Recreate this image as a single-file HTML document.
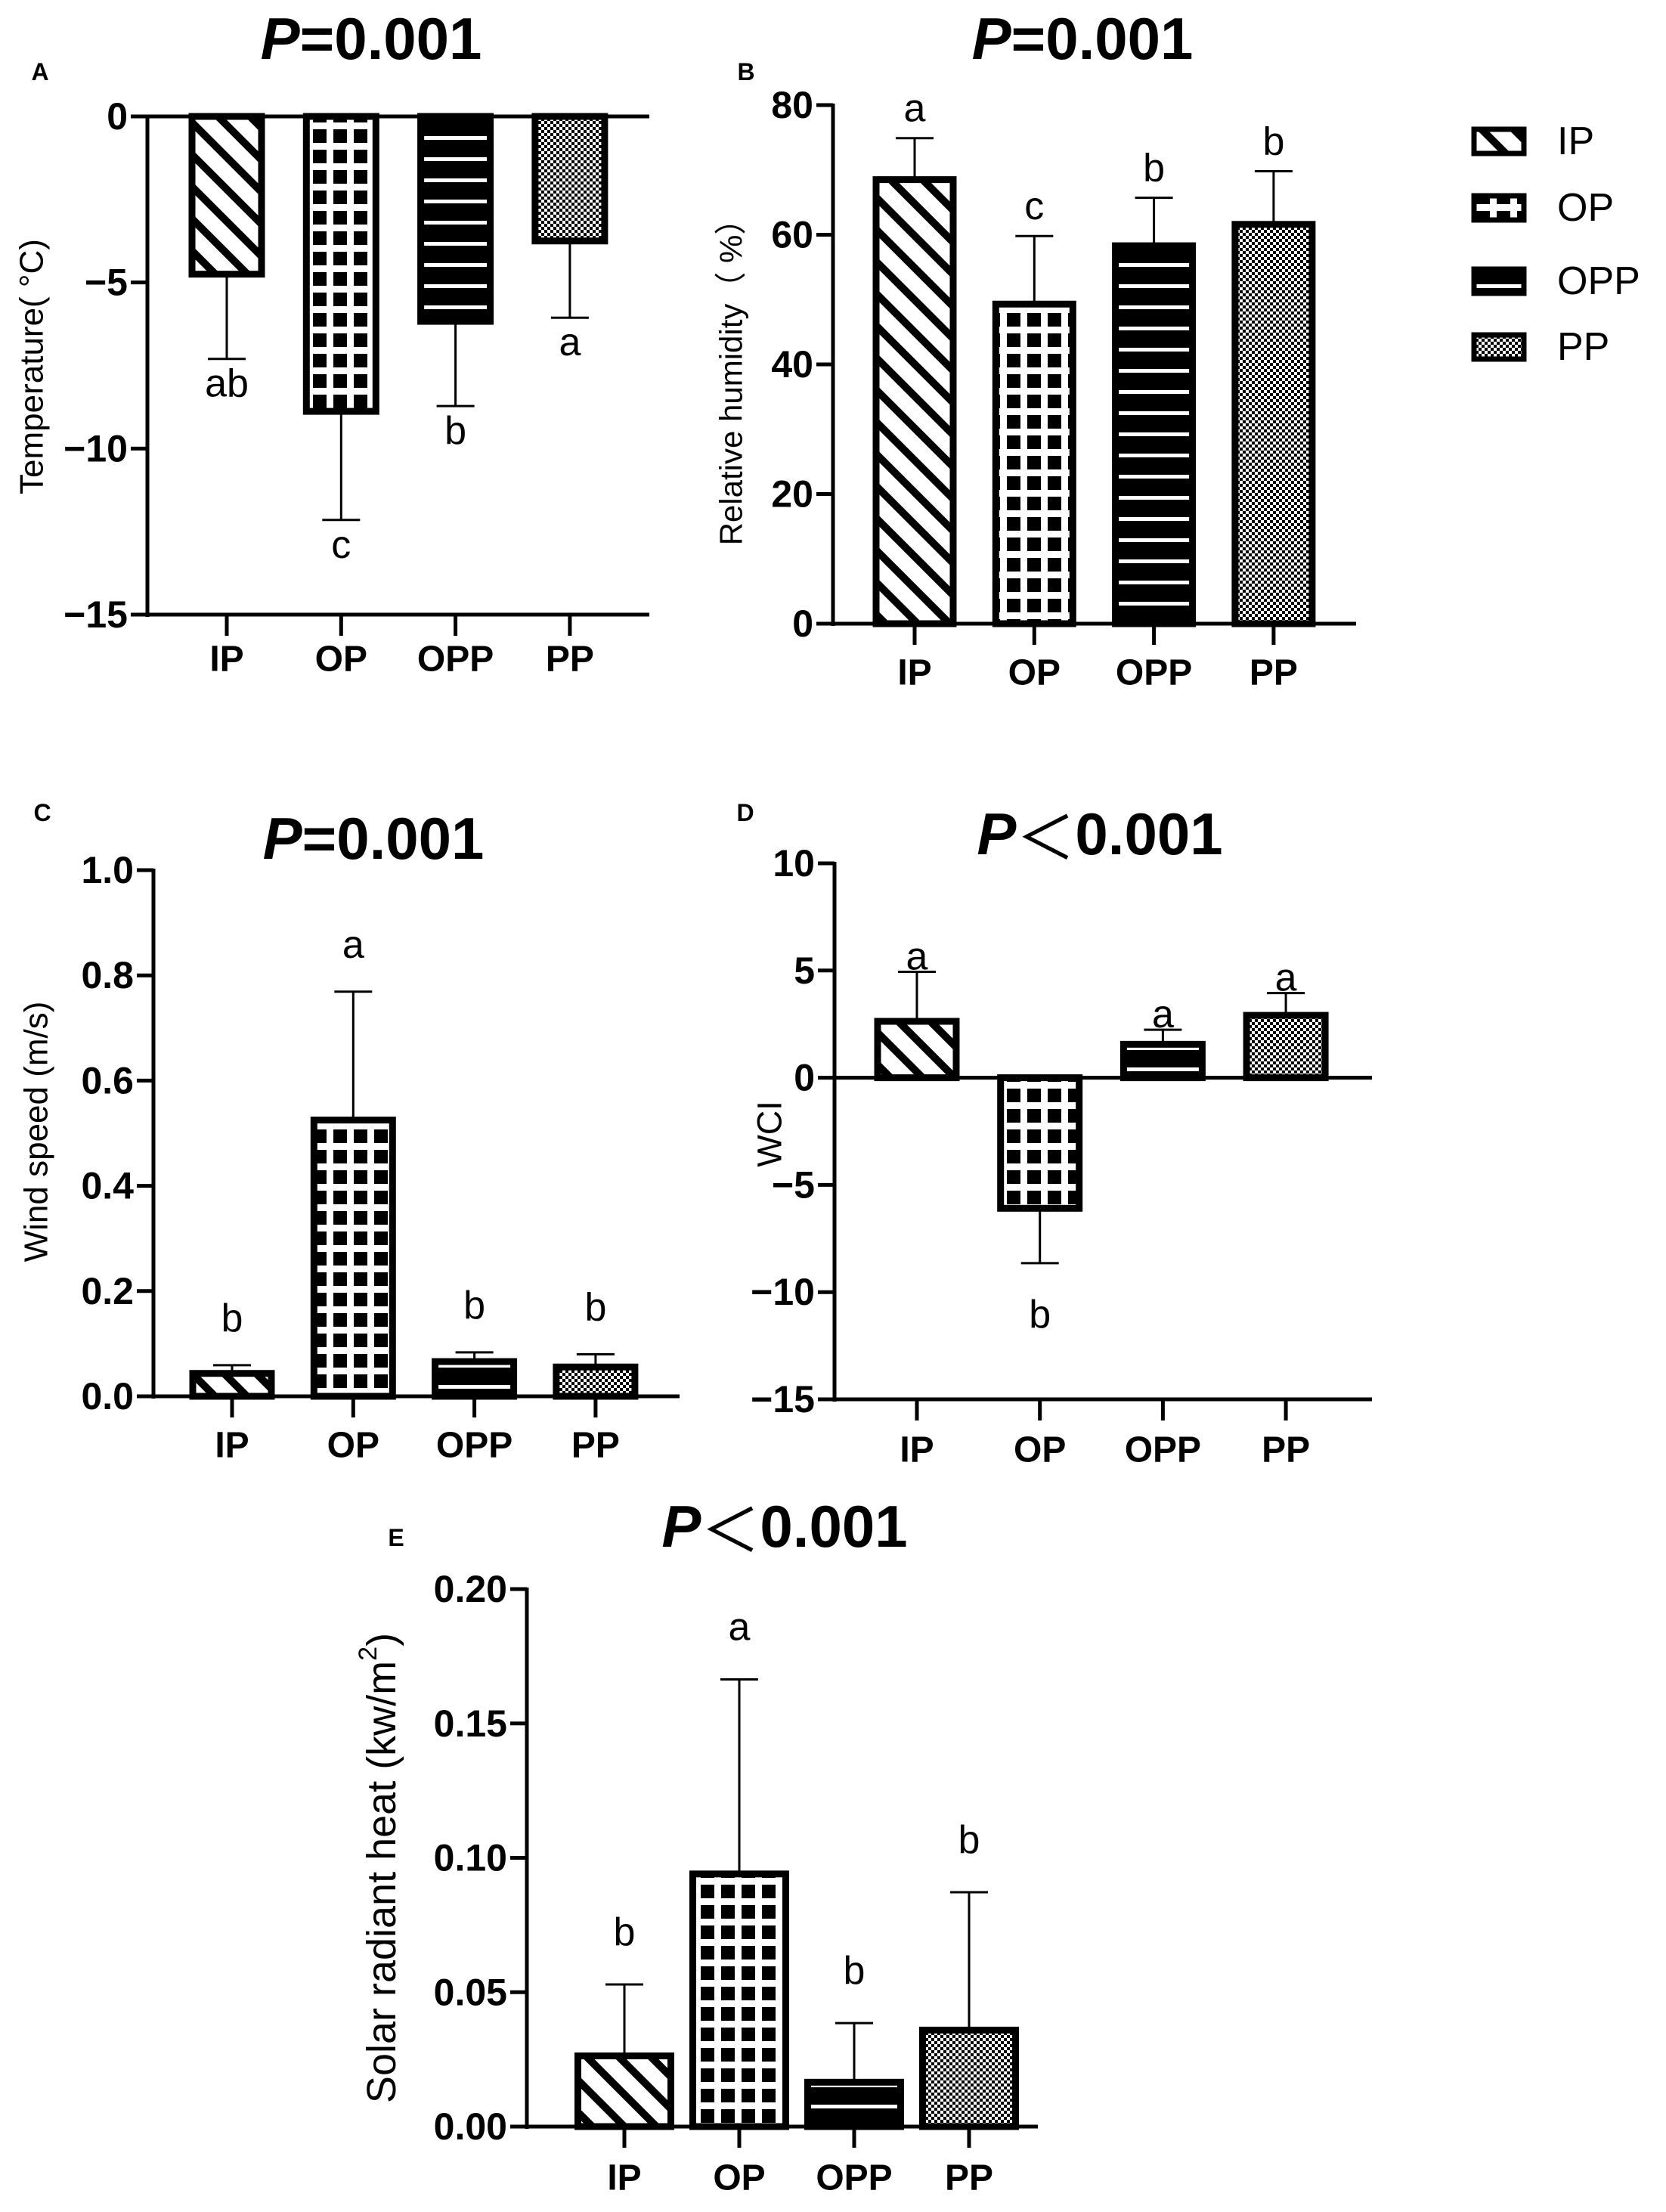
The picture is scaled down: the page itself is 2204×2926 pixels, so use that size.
<!DOCTYPE html>
<html><head><meta charset="utf-8"><style>
html,body{margin:0;padding:0;background:#fff;}
svg{display:block;}
text{font-family:"Liberation Sans","Noto Sans CJK SC",sans-serif;fill:#000;}
</style></head><body>
<svg id="fig" width="2204" height="2926" viewBox="0 0 2204 2926" xmlns="http://www.w3.org/2000/svg">
<defs>
<pattern id="pat-IP" patternUnits="userSpaceOnUse" width="30" height="30" patternTransform="rotate(-45)"><rect width="30" height="30" fill="#fff"/><rect width="10" height="30" fill="#000"/></pattern>
<pattern id="pat-OP" patternUnits="userSpaceOnUse" width="27" height="27"><rect width="27" height="27" fill="#000"/><rect x="0" y="0" width="27" height="9" fill="#fff"/><rect x="0" y="0" width="9" height="27" fill="#fff"/></pattern>
<pattern id="pat-OPP" patternUnits="userSpaceOnUse" width="28" height="28"><rect width="28" height="28" fill="#000"/><rect x="0" y="12" width="28" height="5" fill="#fff"/></pattern>
<pattern id="pat-PP" patternUnits="userSpaceOnUse" width="8" height="8"><rect width="8" height="8" fill="#fff"/><rect width="4" height="4" fill="#000"/><rect x="4" y="4" width="4" height="4" fill="#000"/></pattern>
</defs>
</svg>
<script>
const categories = ["IP","OP","OPP","PP"];
// Panel A: temperature
const tempValues = [-4.75,-8.88,-6.17,-3.75];
const tempErrors = [-7.3,-12.15,-8.72,-6.06];
const tempLetters = ["ab","c","b","a"];
const tempTicks = [0,-5,-10,-15];
const tempTickLabels = ["0","−5","−10","−15"];
// Panel B: humidity
const humValues = [68.5,49.3,58.3,61.6];
const humErrors = [74.9,59.8,65.7,69.8];
const humLetters = ["a","c","b","b"];
const humTicks = [0,20,40,60,80];
const humTickLabels = ["0","20","40","60","80"];
// Panel C: wind
const windValues = [0.0435,0.525,0.066,0.0557];
const windErrors = [0.059,0.769,0.0836,0.080];
const windLetters = ["b","a","b","b"];
const windTicks = [0,0.2,0.4,0.6,0.8,1.0];
const windTickLabels = ["0.0","0.2","0.4","0.6","0.8","1.0"];
// Panel D: WCI
const wciValues = [2.63,-6.09,1.56,2.91];
const wciErrors = [4.94,-8.65,2.24,3.95];
const wciLetters = ["a","b","a","a"];
const wciTicks = [10,5,0,-5,-10,-15];
const wciTickLabels = ["10","5","0","−5","−10","−15"];
// Panel E: solar
const solarValues = [0.0263,0.094,0.0165,0.0359];
const solarErrors = [0.0529,0.1664,0.0385,0.0872];
const solarLetters = ["b","a","b","b"];
const solarTicks = [0,0.05,0.10,0.15,0.20];
const solarTickLabels = ["0.00","0.05","0.10","0.15","0.20"];

const NS="http://www.w3.org/2000/svg";
const svg=document.getElementById('fig');
function mk(tag,attrs,parent,txt){const e=document.createElementNS(NS,tag);for(const k in attrs)e.setAttribute(k,attrs[k]);if(txt!==undefined)e.textContent=txt;(parent||svg).appendChild(e);return e;}

function panel(cfg){
  const g=mk('g',{});
  
  
  const y=v=>cfg.yA+(v-cfg.vA)*(cfg.yB-cfg.yA)/(cfg.vB-cfg.vA);
  const cx=i=>cfg.cStart+i*cfg.step;
  const y0=y(0), yMin=y(cfg.vMin);
  cfg.values.forEach((v,i)=>{
    const top=Math.min(y(v),y0), h=Math.abs(y(v)-y0);
    const r=mk('rect',{x:cx(i)-cfg.bw/2,y:top,width:cfg.bw,height:h,fill:'url(#pat-'+categories[i]+')',stroke:'#000','stroke-width':9},g);
    
    
    const ye=y(cfg.errors[i]);
    const eb=mk('path',{d:`M${cx(i)},${y(v)} L${cx(i)},${ye} M${cx(i)-25},${ye} L${cx(i)+25},${ye}`,stroke:'#000','stroke-width':3,fill:'none'},g);
    
    
    const ly = v<0 ? ye+cfg.negOff : ye-cfg.posOff;
    const t=mk('text',{x:cx(i),y:ly,'text-anchor':'middle','font-size':52},g,cfg.letters[i]);
    
    
  });
  const ax=mk('line',{x1:cfg.x0,y1:y(cfg.vMax)-2,x2:cfg.x0,y2:yMin+3,stroke:'#000','stroke-width':5},g);
  
  
  const bx=mk('line',{x1:cfg.x0,y1:yMin,x2:cfg.xR,y2:yMin,stroke:'#000','stroke-width':5},g);
  
  
  if(cfg.vMin<0){
    const zl=mk('line',{x1:cfg.x0,y1:y0,x2:cfg.xR,y2:y0,stroke:'#000','stroke-width':5},g);
    
    
  }
  cfg.ticks.forEach((tv,i)=>{
    mk('line',{x1:cfg.x0-22,y1:y(tv),x2:cfg.x0,y2:y(tv),stroke:'#000','stroke-width':5},g);
    const t=mk('text',{x:cfg.x0-26,y:y(tv),'text-anchor':'end','dominant-baseline':'central','font-size':cfg.tickFont||50,'font-weight':'bold'},g,cfg.tickLabels[i]);
    
    
  });
  categories.forEach((c,i)=>{
    mk('line',{x1:cx(i),y1:yMin,x2:cx(i),y2:yMin+28,stroke:'#000','stroke-width':5},g);
    const t=mk('text',{x:cx(i),y:cfg.catY,'text-anchor':'middle','dominant-baseline':'central','font-size':48,'font-weight':'bold'},g,c);
    
    
  });
  const yt=mk('text',{x:0,y:0,'text-anchor':'middle','dominant-baseline':'central','font-size':cfg.ytFont,transform:`translate(${cfg.ytX},${cfg.ytY}) rotate(-90)`},g);
  yt.innerHTML=cfg.ytitle;
  
  
  const tt=mk('text',{x:cfg.tX,y:cfg.tY,'text-anchor':'middle','dominant-baseline':'central','font-size':78,'font-weight':'bold'},g);
  tt.innerHTML=cfg.title;
  
  
  const pl=mk('text',{x:cfg.lX,y:cfg.lY,'text-anchor':'middle','dominant-baseline':'central','font-size':32,'font-weight':'bold'},g,cfg.label);
  
  
}
const PEQ='<tspan font-style="italic">P</tspan>=0.001';
const PLT='<tspan font-style="italic">P</tspan><tspan font-weight="normal" font-family="Noto Sans CJK SC">＜</tspan>0.001';

panel({name:'panel-a-temperature',values:tempValues,errors:tempErrors,letters:tempLetters,ticks:tempTicks,tickLabels:tempTickLabels,
  vA:0,yA:154,vB:-15,yB:813,vMin:-15,vMax:0,x0:195,xR:859,cStart:300,step:151.3,bw:92,posOff:20,negOff:50,catY:872,
  ytitle:'Temperature( °C)',ytFont:44,ytX:42,ytY:485,title:PEQ,tX:491,tY:51,label:'A',lX:53,lY:95});
panel({name:'panel-b-humidity',values:humValues,errors:humErrors,letters:humLetters,ticks:humTicks,tickLabels:humTickLabels,
  vA:80,yA:139,vB:0,yB:825,vMin:0,vMax:80,x0:1102,xR:1794,cStart:1210,step:158.3,bw:102,posOff:22,negOff:50,catY:890,
  ytitle:'Relative humidity（ %）',ytFont:42,ytX:967,ytY:495,title:PEQ,tX:1432,tY:51,label:'B',lX:987,lY:95});
panel({name:'panel-c-wind',values:windValues,errors:windErrors,letters:windLetters,ticks:windTicks,tickLabels:windTickLabels,
  vA:1,yA:1151,vB:0,yB:1847,vMin:0,vMax:1,x0:203,xR:899,cStart:307,step:160.3,bw:104,posOff:45,negOff:50,catY:1912,
  ytitle:'Wind speed (m/s)',ytFont:44,ytX:48,ytY:1497,title:PEQ,tX:494,tY:1109,label:'C',lX:56,lY:1075});
panel({name:'panel-d-wci',values:wciValues,errors:wciErrors,letters:wciLetters,ticks:wciTicks,tickLabels:wciTickLabels,
  vA:10,yA:1142,vB:-15,yB:1851,vMin:-15,vMax:10,x0:1104,xR:1815,cStart:1213,step:162.7,bw:104,posOff:3,negOff:85,catY:1918,
  ytitle:'WCI',ytFont:45,ytX:1018,ytY:1500,title:PLT,tX:1455,tY:1103,label:'D',lX:986,lY:1075});
panel({name:'panel-e-solar',values:solarValues,errors:solarErrors,letters:solarLetters,ticks:solarTicks,tickLabels:solarTickLabels,
  vA:0.2,yA:2102,vB:0,yB:2813,vMin:0,vMax:0.2,x0:697,xR:1373,cStart:826,step:152,bw:123,posOff:52,negOff:50,catY:2881,
  ytitle:'Solar radiant heat (kw/m<tspan dy="-18" font-size="34">2</tspan><tspan dy="18">)</tspan>',ytFont:54,ytX:505,ytY:2471,title:PLT,tX:1038,tY:2019,label:'E',lX:524,lY:2034,tickFont:50});

const legY=[187,275,372,459];
const lg=mk('g',{});


categories.forEach((c,i)=>{
  const r=mk('rect',{x:1950,y:legY[i]-16,width:66,height:32,fill:'url(#pat-'+c+')',stroke:'#000','stroke-width':7},lg);
  
  
  const t=mk('text',{x:2060,y:legY[i],'dominant-baseline':'central','font-size':52},lg,c);
  
  
});
</script>
</body></html>
